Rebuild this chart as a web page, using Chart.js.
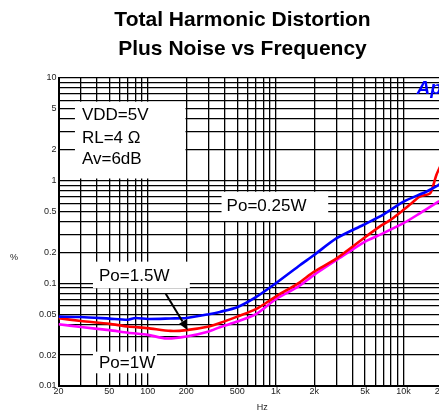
<!DOCTYPE html>
<html><head><meta charset="utf-8">
<script src="https://cdn.jsdelivr.net/npm/chart.js@4/dist/chart.umd.min.js"></script>
<style>html,body{margin:0;padding:0;overflow:hidden;background:#fff;width:439px;height:414px}
canvas{display:block}</style></head>
<body><canvas id="c" width="450" height="414" style="width:450px;height:414px"></canvas>
<script>
// ---- data ----
const titleLines = ['Total Harmonic Distortion', 'Plus Noise vs Frequency'];
const xTickValues = [20, 50, 100, 200, 500, 1000, 2000, 5000, 10000, 20000];
const xTickText = ['20', '50', '100', '200', '500', '1k', '2k', '5k', '10k', '20k'];
const yTickValues = [0.01, 0.02, 0.05, 0.1, 0.2, 0.5, 1, 2, 5, 10];
const yTickText = ['0.01', '0.02', '0.05', '0.1', '0.2', '0.5', '1', '2', '5', '10'];

const seriesNames = ['Po=0.25W', 'Po=1.5W', 'Po=1W'];
const blueFreq = [20, 30, 50, 70, 80, 100, 150, 200, 300, 366, 500, 700, 1000, 1500, 2000, 3000, 4830, 7000, 10000, 15000, 18600, 20000];
const blueTHD  = [0.0474, 0.047, 0.0453, 0.0442, 0.046, 0.045, 0.0455, 0.046, 0.050, 0.0527, 0.0585, 0.0733, 0.100, 0.146, 0.189, 0.275, 0.37, 0.47, 0.625, 0.78, 0.90, 0.95];
const redFreq = [20, 30, 50, 70, 100, 150, 200, 300, 366, 500, 700, 1000, 1500, 2000, 3000, 5000, 6500, 7800, 10000, 11500, 13400, 16100, 17000, 18100, 20000];
const redTHD  = [0.0457, 0.043, 0.0403, 0.038, 0.0366, 0.0344, 0.035, 0.038, 0.041, 0.0474, 0.056, 0.0743, 0.100, 0.130, 0.175, 0.281, 0.357, 0.41, 0.52, 0.60, 0.70, 0.75, 0.88, 1.14, 1.5];
const magFreq = [20, 30, 50, 70, 100, 140, 200, 300, 366, 500, 700, 1000, 1500, 2000, 3000, 5000, 6500, 10000, 13400, 18600, 20000];
const magTHD  = [0.040, 0.0375, 0.035, 0.033, 0.0315, 0.029, 0.0303, 0.034, 0.0374, 0.0424, 0.050, 0.070, 0.093, 0.121, 0.169, 0.255, 0.296, 0.385, 0.48, 0.62, 0.65];

// ---- annotations (data coordinates) ----
const notes = [
  {box: [26.9, 197, 5.88, 1.05], text: [['VDD=5V', 30.5, 3.90], ['RL=4 \u03A9', 30.5, 2.31], ['Av=6dB', 30.5, 1.455]]},
  {box: [377, 2576, 0.78, 0.405], text: [['Po=0.25W', 413, 0.507]]},
  {box: [37.2, 213, 0.1626, 0.0896], text: [['Po=1.5W', 41.5, 0.1055]]},
  {box: [37.2, 117.8, 0.0216, 0.0133], text: [['Po=1W', 41.5, 0.0151]]}
];
const arrowFrom = [138, 0.079], arrowTo = [205, 0.035];
const logoPos = [12650, 6.94];

function decadeGrid(lo, hi) {
  const out = [];
  for (let d = Math.pow(10, Math.floor(Math.log10(lo))); d <= hi; d *= 10)
    for (let m = 1; m <= 9; m++) { const v = +(m * d).toPrecision(6); if (v >= lo - 1e-9 && v <= hi + 1e-9) out.push(v); }
  return out;
}
function labelFor(vals, texts, v) {
  for (let i = 0; i < vals.length; i++) if (Math.abs(vals[i] - v) / vals[i] < 1e-6) return texts[i];
  return '';
}
const pts = (f, v) => f.map((x, i) => ({x: x, y: v[i]}));
const FAM = '"Liberation Sans", Arial, sans-serif';

const annotPlugin = {
  id: 'annot',
  beforeDatasetsDraw(chart) {
    const ctx = chart.ctx, xs = chart.scales.x, ys = chart.scales.y;
    ctx.save();
    const a = chart.chartArea;
    ctx.beginPath(); ctx.rect(a.left + 1, a.top, a.right - a.left, a.bottom - a.top - 1); ctx.clip();
    for (const n of notes) {
      const x0 = xs.getPixelForValue(n.box[0]), x1 = xs.getPixelForValue(n.box[1]);
      const y0 = ys.getPixelForValue(n.box[2]), y1 = ys.getPixelForValue(n.box[3]);
      ctx.fillStyle = '#fff';
      ctx.fillRect(x0, y0, x1 - x0, y1 - y0);
    }
    ctx.restore();
  },
  afterDatasetsDraw(chart) {
    const ctx = chart.ctx, xs = chart.scales.x, ys = chart.scales.y;
    ctx.save();
    // title
    ctx.fillStyle = '#000';
    ctx.font = 'bold 21px ' + FAM;
    ctx.textAlign = 'center'; ctx.textBaseline = 'alphabetic';
    ctx.fillText(titleLines[0], 242.5, 26);
    ctx.fillText(titleLines[1], 242.5, 54.5);
    // notes
    ctx.font = '17px ' + FAM;
    ctx.textAlign = 'left';
    for (const n of notes) for (const t of n.text)
      ctx.fillText(t[0], xs.getPixelForValue(t[1]), ys.getPixelForValue(t[2]));
    // arrow
    const ax0 = xs.getPixelForValue(arrowFrom[0]), ay0 = ys.getPixelForValue(arrowFrom[1]);
    const ax1 = xs.getPixelForValue(arrowTo[0]), ay1 = ys.getPixelForValue(arrowTo[1]);
    const ang = Math.atan2(ay1 - ay0, ax1 - ax0), hl = 10, hw = 4;
    ctx.strokeStyle = '#000'; ctx.lineWidth = 2;
    ctx.beginPath(); ctx.moveTo(ax0, ay0);
    ctx.lineTo(ax1 - hl * Math.cos(ang), ay1 - hl * Math.sin(ang)); ctx.stroke();
    ctx.beginPath(); ctx.moveTo(ax1, ay1);
    ctx.lineTo(ax1 - hl * Math.cos(ang) + hw * Math.sin(ang), ay1 - hl * Math.sin(ang) - hw * Math.cos(ang));
    ctx.lineTo(ax1 - hl * Math.cos(ang) - hw * Math.sin(ang), ay1 - hl * Math.sin(ang) + hw * Math.cos(ang));
    ctx.closePath(); ctx.fill();
    // logo
    ctx.fillStyle = '#0000ff';
    ctx.font = 'italic bold 19px ' + FAM;
    ctx.fillText('Ap', xs.getPixelForValue(logoPos[0]), ys.getPixelForValue(logoPos[1]));
    // axis titles
    const a = chart.chartArea;
    ctx.fillStyle = '#222';
    ctx.font = '9px ' + FAM;
    ctx.textAlign = 'center'; ctx.textBaseline = 'middle';
    ctx.fillText('%', 14, (a.top + a.bottom) / 2 + 26);
    ctx.fillText('Hz', (a.left + a.right) / 2 + 12, 408);
    ctx.restore();
  }
};

const font9 = {family: FAM, size: 9};
new Chart(document.getElementById('c'), {
  type: 'line',
  data: {
    datasets: [
      {label: seriesNames[0], data: pts(blueFreq, blueTHD), borderColor: '#0000ff'},
      {label: seriesNames[1], data: pts(redFreq, redTHD), borderColor: '#ff0000'},
      {label: seriesNames[2], data: pts(magFreq, magTHD), borderColor: '#ff00ff'}
    ]
  },
  options: {
    responsive: false, animation: false, devicePixelRatio: 1,
    layout: {padding: {left: 0, right: 8, top: 78, bottom: 0}},
    datasets: {line: {borderWidth: 2.6, pointRadius: 0, tension: 0.25, fill: false}},
    plugins: {
      legend: {display: false}, tooltip: {enabled: false}, title: {display: false}
    },
    scales: {
      x: {
        type: 'logarithmic', min: 20, max: 20000,
        afterBuildTicks: s => { s.ticks = decadeGrid(20, 20000).map(v => ({value: v})); },
        afterFit: s => { s.height = 28; s.paddingLeft = 0; s.paddingRight = 0; },
        grid: {color: '#000', lineWidth: 1.3, drawTicks: false},
        border: {color: '#000', width: 2},
        ticks: {autoSkip: false, maxRotation: 0, padding: 0, color: '#222', font: font9,
          callback: v => labelFor(xTickValues, xTickText, v)}
      },
      y: {
        type: 'logarithmic', min: 0.01, max: 10,
        afterBuildTicks: s => { s.ticks = decadeGrid(0.01, 10).map(v => ({value: v})); },
        afterFit: s => { s.width = 58.5; s.paddingTop = 0; s.paddingBottom = 0; },
        grid: {color: '#000', lineWidth: 1.3, drawTicks: false},
        border: {color: '#000', width: 2},
        ticks: {autoSkip: false, padding: 2, color: '#222', font: font9,
          callback: v => labelFor(yTickValues, yTickText, v)}
      }
    }
  },
  plugins: [annotPlugin]
});
</script></body></html>
